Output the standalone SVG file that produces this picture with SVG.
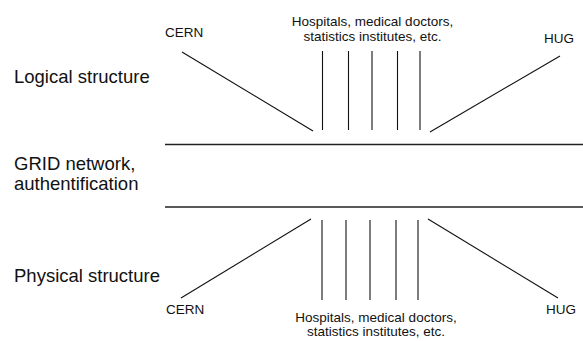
<svg xmlns="http://www.w3.org/2000/svg" width="583" height="341" viewBox="0 0 583 341">
<style>
text{font-family:"Liberation Sans",Arial,sans-serif;fill:#111}
.big{font-size:18.5px}
.sm{font-size:13.5px}
.mid{text-anchor:middle}
line{stroke:#111;stroke-width:1.1}
.hl{stroke:#222;stroke-width:1.5}
</style>
<rect width="583" height="341" fill="#fff"/>
<g id="label-logical"><text class="big" x="14" y="83">Logical structure</text></g>
<g id="label-grid"><text class="big" x="14" y="170">GRID network,</text><text class="big" x="14" y="190">authentification</text></g>
<g id="label-physical"><text class="big" x="14" y="282">Physical structure</text></g>
<g id="top-cern"><text class="sm" x="165" y="37">CERN</text></g>
<g id="top-hospitals"><text class="sm mid" x="372.5" y="26">Hospitals, medical doctors,</text><text class="sm mid" x="372.5" y="40.5">statistics institutes, etc.</text></g>
<g id="top-hug"><text class="sm" x="544" y="42.5">HUG</text></g>
<g id="bottom-cern"><text class="sm" x="166" y="314">CERN</text></g>
<g id="bottom-hospitals"><text class="sm mid" x="376" y="322">Hospitals, medical doctors,</text><text class="sm mid" x="376" y="336">statistics institutes, etc.</text></g>
<g id="bottom-hug"><text class="sm" x="546" y="314">HUG</text></g>
<g id="connectors">
<line class="hl" x1="165" y1="144.5" x2="583" y2="144.5"/>
<line class="hl" x1="165" y1="207" x2="583" y2="207"/>
<line x1="182" y1="52" x2="313" y2="131"/>
<line x1="322.5" y1="51" x2="322.5" y2="130"/>
<line x1="348.5" y1="51" x2="348.5" y2="130"/>
<line x1="372" y1="51" x2="372" y2="130"/>
<line x1="397.5" y1="51" x2="397.5" y2="130"/>
<line x1="420" y1="51" x2="420" y2="130"/>
<line x1="430" y1="132" x2="560" y2="56"/>
<line x1="181" y1="298" x2="311" y2="219"/>
<line x1="322" y1="220" x2="322" y2="300"/>
<line x1="346" y1="220" x2="346" y2="300"/>
<line x1="370" y1="220" x2="370" y2="300"/>
<line x1="396" y1="220" x2="396" y2="300"/>
<line x1="418" y1="220" x2="418" y2="300"/>
<line x1="428" y1="219" x2="558" y2="298"/>
</g>
</svg>
